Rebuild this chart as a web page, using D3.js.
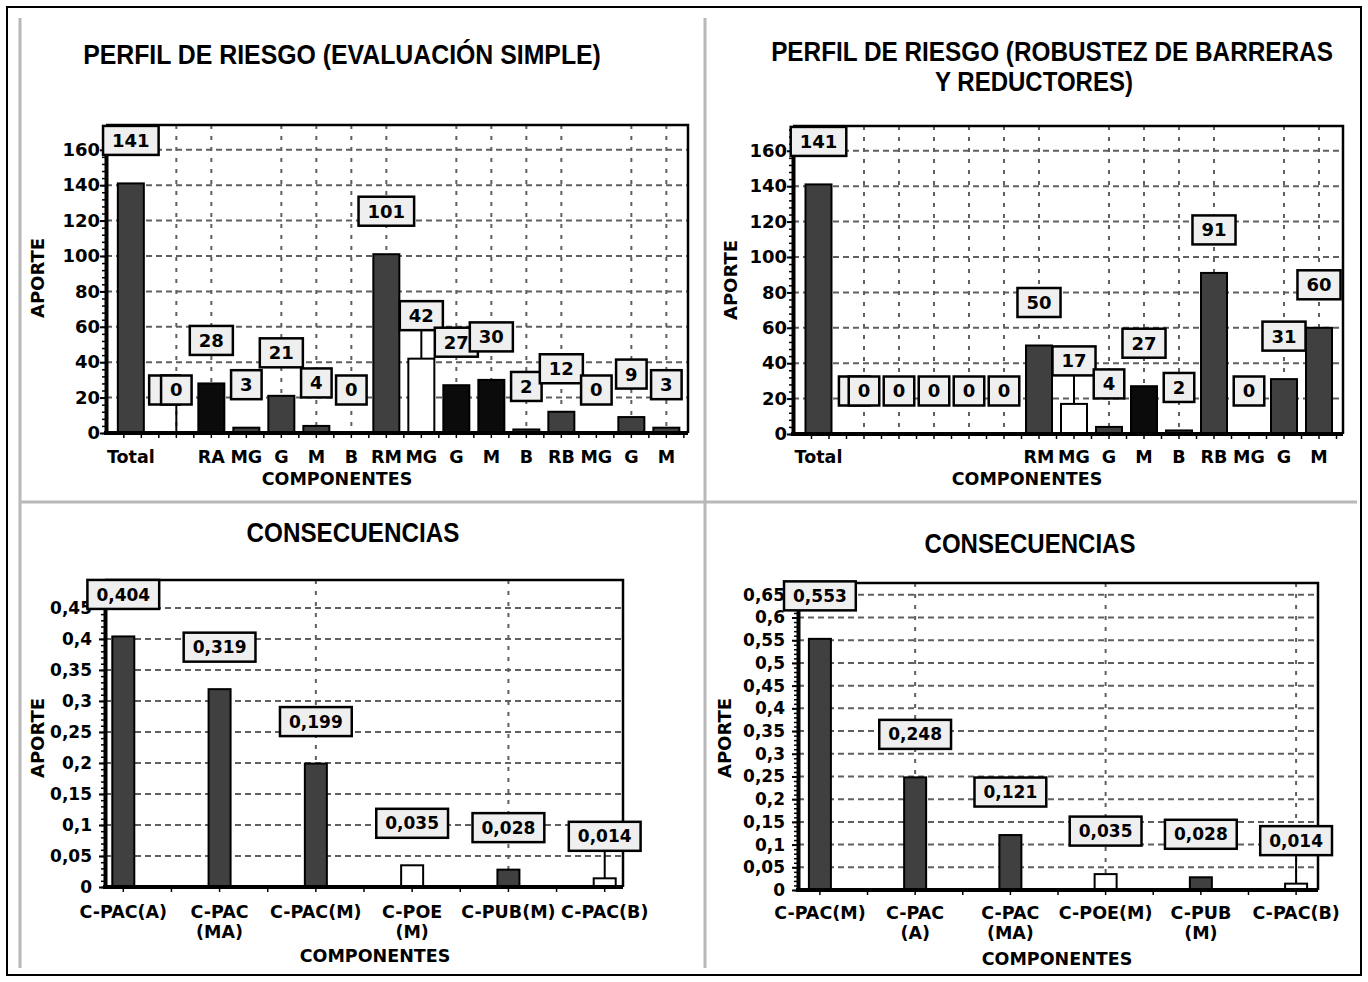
<!DOCTYPE html>
<html lang="es">
<head>
<meta charset="utf-8">
<title>Perfil de riesgo y consecuencias</title>
<script src="https://cdn.jsdelivr.net/npm/d3@7"></script>
<style>
  body { margin: 0; background: #fff; }
  text { font-family: "DejaVu Sans", Verdana, sans-serif; font-weight: bold; fill: #000; }
  text.title { font-family: "Liberation Sans Narrow", "Arial Narrow", "Liberation Sans", sans-serif; }
</style>
</head>
<body>
<div id="vis"></div>
<script>
// ---- data ----
var catsSimple = ["Total", "", "RA", "MG", "G", "M", "B", "RM", "MG", "G", "M", "B", "RB", "MG", "G", "M"];
var valsSimple = [141, 0, 28, 3, 21, 4, 0, 101, 42, 27, 30, 2, 12, 0, 9, 3];
var serSimple  = ["S1", "S3", "S2", "S1", "S1", "S1", "S1", "S1", "S3", "S2", "S2", "S1", "S1", "S1", "S1", "S1"];
var leadSimple = [1, 8];

var catsRobust = ["Total", "", "", "", "", "", "RM", "MG", "G", "M", "B", "RB", "MG", "G", "M"];
var valsRobust = [141, 0, 0, 0, 0, 0, 50, 17, 4, 27, 2, 91, 0, 31, 60];
var serRobust  = ["S1", "S1", "S1", "S1", "S1", "S1", "S1", "S3", "S1", "S2", "S1", "S1", "S1", "S1", "S1"];
var leadRobust = [7];

// second (zero) value of the Total group, its box sits behind the next one
var totalSecond = 0;

var catsConsA = ["C-PAC(A)", "C-PAC\n(MA)", "C-PAC(M)", "C-POE\n(M)", "C-PUB(M)", "C-PAC(B)"];
var valsConsA = [0.404, 0.319, 0.199, 0.035, 0.028, 0.014];
var serConsA  = ["S1", "S1", "S1", "S3", "S1", "S3"];
var leadConsA = [5];

var catsConsB = ["C-PAC(M)", "C-PAC\n(A)", "C-PAC\n(MA)", "C-POE(M)", "C-PUB\n(M)", "C-PAC(B)"];
var valsConsB = [0.553, 0.248, 0.121, 0.035, 0.028, 0.014];
var serConsB  = ["S1", "S1", "S1", "S3", "S1", "S3"];
var leadConsB = [5];

var ticksRiesgo = [0, 20, 40, 60, 80, 100, 120, 140, 160];
var ticksConsA  = [0, 0.05, 0.1, 0.15, 0.2, 0.25, 0.3, 0.35, 0.4, 0.45];
var ticksConsB  = [0, 0.05, 0.1, 0.15, 0.2, 0.25, 0.3, 0.35, 0.4, 0.45, 0.5, 0.55, 0.6, 0.65];

// ---- setup ----
var svg = d3.select("#vis").append("svg")
    .attr("width", 1368)
    .attr("height", 982);

var es = d3.formatLocale({decimal: ",", thousands: ".", grouping: [3], currency: ["", " €"]});
var fmtInt = d3.format("d");
var fmtTick = es.format("~g");
var fmtVal = es.format(".3f");

var color = d3.scaleOrdinal()
    .domain(["S1", "S2", "S3"])
    .range(["#404040", "#0b0b0b", "#ffffff"]);

var translate = function(x, y) { return "translate(" + x + "," + y + ")"; };

// outer frame and panel dividers
svg.append("rect")
    .attr("x", 7).attr("y", 7).attr("width", 1354).attr("height", 968)
    .attr("fill", "none").attr("stroke", "#000").attr("stroke-width", 2);
[[20, 18, 20, 968], [705, 18, 705, 968], [20, 502, 1357, 502]].forEach(function(l) {
  svg.append("line")
      .attr("x1", l[0]).attr("y1", l[1]).attr("x2", l[2]).attr("y2", l[3])
      .attr("stroke", "#b8b8b8").attr("stroke-width", 3);
});

function drawChart(c) {
  var g = svg.append("g");
  var n = c.cats.length;

  var x = d3.scalePoint()
      .domain(d3.range(n))
      .range([c.left, c.right])
      .padding(c.pad)
      .align(c.align);
  var step = x.step();
  var y = d3.scaleLinear()
      .domain([0, c.yMax])
      .range([c.bottom, c.top]);
  // the Total group sits a bit left of its slot
  var cx = function(i) { return x(i) + (i === 0 ? c.firstShift * step : 0); };

  // horizontal grid
  g.append("g").selectAll("line")
      .data(c.ticks.filter(function(d) { return d > 0; }))
      .enter().append("line")
        .attr("x1", c.left).attr("x2", c.right)
        .attr("y1", function(d) { return y(d); })
        .attr("y2", function(d) { return y(d); })
        .attr("stroke", "#606060").attr("stroke-width", 2)
        .attr("stroke-dasharray", "6,4");

  // vertical grid
  g.append("g").selectAll("line")
      .data(d3.range(n).filter(function(i) { return c.vgrid(i, c.cats[i]); }))
      .enter().append("line")
        .attr("x1", cx).attr("x2", cx)
        .attr("y1", c.top).attr("y2", c.bottom)
        .attr("stroke", "#606060").attr("stroke-width", 2)
        .attr("stroke-dasharray", "4,7");

  // frame top + right
  g.append("path")
      .attr("d", "M" + c.left + "," + c.top + "H" + c.right + "V" + c.bottom)
      .attr("fill", "none").attr("stroke", "#000").attr("stroke-width", 2.5);

  // bars
  g.append("g").selectAll("rect")
      .data(d3.range(n).filter(function(i) { return c.vals[i] > 0; }))
      .enter().append("rect")
        .attr("x", function(i) { return cx(i) - c.bw / 2; })
        .attr("y", function(i) { return y(c.vals[i]); })
        .attr("width", c.bw)
        .attr("height", function(i) { return y(0) - y(c.vals[i]); })
        .attr("fill", function(i) { return color(c.series[i]); })
        .attr("stroke", "#000").attr("stroke-width", 2);

  // y axis, minor ticks first
  var minor = g.append("g")
      .attr("transform", translate(c.left, 0))
      .call(d3.axisLeft(y).tickValues(c.minor).tickSize(4).tickFormat(""));
  minor.select(".domain").remove();
  minor.selectAll(".tick line").attr("stroke-width", 1.5);

  var ya = g.append("g")
      .attr("transform", translate(c.left, 0))
      .call(d3.axisLeft(y).tickValues(c.ticks).tickFormat(c.tickFmt)
        .tickSize(6).tickSizeOuter(0).tickPadding(c.tickPad));
  ya.select(".domain").attr("stroke-width", 4);
  ya.selectAll(".tick line").attr("stroke-width", 2);
  ya.selectAll(".tick text").attr("font-size", c.tickFont);

  // x axis line + small ticks
  var xt = d3.range(0, 2 * n + 2).map(function(k) { return x(0) - step / 2 + k * step / 2; })
      .filter(function(v) { return v > c.left + 2 && v < c.right; });
  g.append("g").selectAll("line")
      .data(xt)
      .enter().append("line")
        .attr("x1", function(d) { return d; }).attr("x2", function(d) { return d; })
        .attr("y1", y(0)).attr("y2", y(0) + 5)
        .attr("stroke", "#000").attr("stroke-width", 1.5);
  g.append("line")
      .attr("x1", c.left - 2).attr("x2", c.right)
      .attr("y1", y(0)).attr("y2", y(0))
      .attr("stroke", "#000").attr("stroke-width", 4);

  // x labels
  var xl = g.append("g").selectAll("text")
      .data(d3.range(n))
      .enter().append("text")
        .attr("text-anchor", "middle")
        .attr("font-size", c.labelFont)
        .attr("transform", function(i) { return translate(cx(i), c.xLabelY); });
  xl.selectAll("tspan")
      .data(function(i) { return c.cats[i].split("\n"); })
      .enter().append("tspan")
        .attr("x", 0)
        .attr("y", function(d, k) { return k * 20; })
        .text(function(d) { return d; });

  // leader lines
  g.append("g").selectAll("line")
      .data(c.leaders)
      .enter().append("line")
        .attr("x1", cx).attr("x2", cx)
        .attr("y1", function(i) { return y(c.vals[i]) - c.lift + 14; })
        .attr("y2", function(i) { return y(c.vals[i]); })
        .attr("stroke", "#000").attr("stroke-width", 2);

  // value boxes, drawn in order so later ones cover earlier ones
  var labels = [{x: cx(0), v: c.vals[0], show: true}];
  if (c.second != null) labels.push({x: x(0) + c.secondShift * step, v: c.second, show: false});
  d3.range(1, n).forEach(function(i) { labels.push({x: cx(i), v: c.vals[i], show: true}); });

  labels.forEach(function(d) {
    var b = g.append("g").attr("transform", translate(d.x, y(d.v) - c.lift));
    var t = b.append("text")
        .attr("text-anchor", "middle")
        .attr("dy", "0.36em")
        .attr("font-size", c.boxFont)
        .text(c.valFmt(d.v));
    var w = t.node().getComputedTextLength();
    b.insert("rect", "text")
        .attr("x", -w / 2 - 9).attr("y", -14.5)
        .attr("width", w + 18).attr("height", 29)
        .attr("fill", "#efefef").attr("stroke", "#000").attr("stroke-width", 2.5);
    // the hidden box only shows its edge, its text stays behind the next box
    if (!d.show) t.remove();
  });

  // axis titles
  g.append("text")
      .attr("transform", translate(c.apX, c.apY) + " rotate(-90)")
      .attr("text-anchor", "middle")
      .attr("font-size", 18)
      .text("APORTE");
  g.append("text")
      .attr("x", c.compX).attr("y", c.compY)
      .attr("text-anchor", "middle")
      .attr("font-size", 17.5)
      .text("COMPONENTES");

  // chart title, squeezed horizontally to the narrow width of the original
  c.title.forEach(function(t) {
    var tt = g.append("text")
        .attr("class", "title")
        .attr("text-anchor", "middle")
        .attr("font-size", 28)
        .text(t.text);
    var natural = tt.node().getComputedTextLength();
    tt.attr("transform", translate(t.x, t.y) + " scale(" + (t.len / natural) + ",1)");
  });
}

var notMG = function(i, cat) { return i > 0 && cat !== "MG"; };

drawChart({
  cats: catsSimple, vals: valsSimple, series: serSimple, leaders: leadSimple,
  second: totalSecond, secondShift: 0.66, firstShift: -0.3,
  left: 106, right: 688, top: 125, bottom: 433, yMax: 174,
  pad: 0.814, align: 0.62, bw: 26, lift: 43,
  ticks: ticksRiesgo, minor: d3.range(0, 174, 4), tickPad: 0,
  tickFmt: fmtInt, valFmt: fmtInt, tickFont: 18, boxFont: 18, labelFont: 17.5,
  xLabelY: 463, vgrid: notMG,
  apX: 44, apY: 278, compX: 337, compY: 485,
  title: [{text: "PERFIL DE RIESGO (EVALUACIÓN SIMPLE)", x: 342, y: 64, len: 518}]
});

drawChart({
  cats: catsRobust, vals: valsRobust, series: serRobust, leaders: leadRobust,
  second: totalSecond, secondShift: 0.72, firstShift: -0.3,
  left: 793, right: 1343, top: 126, bottom: 434, yMax: 174,
  pad: 0.857, align: 0.6, bw: 26, lift: 43,
  ticks: ticksRiesgo, minor: d3.range(0, 174, 4), tickPad: 0,
  tickFmt: fmtInt, valFmt: fmtInt, tickFont: 18, boxFont: 18, labelFont: 17.5,
  xLabelY: 463, vgrid: notMG,
  apX: 737, apY: 280, compX: 1027, compY: 485,
  title: [
    {text: "PERFIL DE RIESGO (ROBUSTEZ DE BARRERAS", x: 1052, y: 61, len: 562},
    {text: "Y REDUCTORES)", x: 1034, y: 91, len: 198}
  ]
});

drawChart({
  cats: catsConsA, vals: valsConsA, series: serConsA, leaders: leadConsA,
  second: null, firstShift: 0,
  left: 105, right: 623, top: 580, bottom: 887, yMax: 0.495,
  pad: 0.19, align: 0.5, bw: 22, lift: 42,
  ticks: ticksConsA, minor: d3.range(0, 0.49, 0.01), tickPad: 7,
  tickFmt: fmtTick, valFmt: fmtVal, tickFont: 17, boxFont: 17, labelFont: 17.5,
  xLabelY: 918, vgrid: function(i) { return i === 2 || i === 4; },
  apX: 44, apY: 738, compX: 375, compY: 962,
  title: [{text: "CONSECUENCIAS", x: 353, y: 542, len: 213}]
});

drawChart({
  cats: catsConsB, vals: valsConsB, series: serConsB, leaders: leadConsB,
  second: null, firstShift: 0,
  left: 798, right: 1318, top: 583, bottom: 890, yMax: 0.676,
  pad: 0.23, align: 0.5, bw: 22, lift: 43,
  ticks: ticksConsB, minor: d3.range(0, 0.67, 0.01), tickPad: 7,
  tickFmt: fmtTick, valFmt: fmtVal, tickFont: 17, boxFont: 17, labelFont: 17.5,
  xLabelY: 919, vgrid: function(i) { return i % 2 === 1; },
  apX: 731, apY: 738, compX: 1057, compY: 965,
  title: [{text: "CONSECUENCIAS", x: 1030, y: 553, len: 211}]
});
</script>
</body>
</html>
